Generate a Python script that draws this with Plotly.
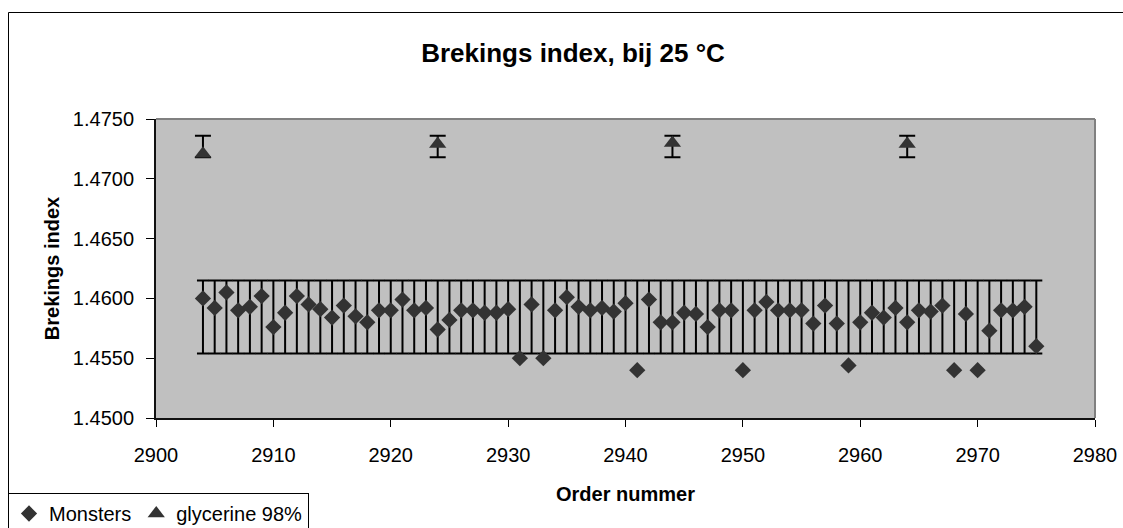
import plotly.graph_objects as go

# Refractive index of the samples per order number
order_numbers = list(range(2904, 2976))
monsters = [
    1.4600, 1.4592, 1.4605, 1.4590, 1.4593, 1.4602, 1.4576, 1.4588, 1.4602, 1.4595,
    1.4591, 1.4584, 1.4594, 1.4585, 1.4580, 1.4590, 1.4590, 1.4599, 1.4590, 1.4592,
    1.4574, 1.4582, 1.4590, 1.4590, 1.4588, 1.4588, 1.4591, 1.4550, 1.4595, 1.4550,
    1.4590, 1.4601, 1.4593, 1.4590, 1.4592, 1.4589, 1.4596, 1.4540, 1.4599, 1.4580,
    1.4580, 1.4588, 1.4587, 1.4576, 1.4590, 1.4590, 1.4540, 1.4590, 1.4597, 1.4590,
    1.4590, 1.4590, 1.4579, 1.4594, 1.4579, 1.4544, 1.4580, 1.4588, 1.4584, 1.4592,
    1.4580, 1.4590, 1.4589, 1.4594, 1.4540, 1.4587, 1.4540, 1.4573, 1.4590, 1.4590,
    1.4593, 1.4560,
]
monsters_low, monsters_high = 1.4554, 1.4615

# Glycerine 98% reference measurements
glycerine_orders = [2904, 2924, 2944, 2964]
glycerine = [1.4721, 1.4729, 1.4730, 1.4729]
glycerine_low, glycerine_high = 1.4718, 1.4736

y_ticks = [1.4500, 1.4550, 1.4600, 1.4650, 1.4700, 1.4750]
x_ticks = [2900, 2910, 2920, 2930, 2940, 2950, 2960, 2970, 2980]

FONT = "Liberation Sans, Arial, sans-serif"
MARK = "#333333"

fig = go.Figure()
fig.add_trace(go.Scatter(
    x=order_numbers, y=monsters, mode="markers", name="Monsters",
    marker=dict(symbol="diamond", size=12.5, color=MARK),
    error_y=dict(type="data", symmetric=False,
                 array=[monsters_high - v for v in monsters],
                 arrayminus=[v - monsters_low for v in monsters],
                 color="black", thickness=2, width=6),
))
fig.add_trace(go.Scatter(
    x=glycerine_orders, y=glycerine, mode="markers", name="glycerine 98%",
    marker=dict(symbol="triangle-up", size=15, color=MARK),
    error_y=dict(type="data", symmetric=False,
                 array=[glycerine_high - v for v in glycerine],
                 arrayminus=[v - glycerine_low for v in glycerine],
                 color="black", thickness=2, width=8),
))

W, H = 1123, 528
L, R, T, B = 156, 28, 119, 110
pw, ph = W - L - R, H - T - B

def px(xp):
    return (xp - L) / pw

def py(yp):
    return (H - B - yp) / ph

fig.update_layout(
    width=W, height=H,
    margin=dict(l=L, r=R, t=T, b=B, autoexpand=False),
    paper_bgcolor="white", plot_bgcolor="#C0C0C0",
    font=dict(family=FONT, size=20, color="black"),
    title=dict(text="<b>Brekings index, bij 25 °C</b>", font=dict(size=26),
               xref="container", yref="container",
               x=573 / W, y=1 - 53 / H, xanchor="center", yanchor="middle"),
    showlegend=True,
    legend=dict(orientation="h", x=px(8), y=py(493), xanchor="left", yanchor="top",
                bgcolor="white", bordercolor="black", borderwidth=1,
                font=dict(size=20), itemsizing="trace", tracegroupgap=0),
    xaxis=dict(range=[2900, 2980], tickvals=x_ticks, ticks="outside", ticklen=7,
               tickcolor="black", tickwidth=1, showgrid=False, zeroline=False,
               showline=True, linecolor="#111111", linewidth=2,
               ticklabelstandoff=11,
               title=dict(text="<b>Order nummer</b>", font=dict(size=20), standoff=22)),
    yaxis=dict(range=[1.4500, 1.4750], tickvals=y_ticks, tickformat=".4f",
               ticks="outside", ticklen=8, tickcolor="black", tickwidth=1,
               showgrid=False, zeroline=False, showline=True, linecolor="#111111",
               linewidth=2, ticklabelstandoff=8,
               title=dict(text="<b>Brekings index</b>", font=dict(size=20), standoff=8)),
    shapes=[
        # grey frame on the top and right of the plot area
        dict(type="line", xref="paper", yref="paper", x0=0, x1=1, y0=1, y1=1,
             line=dict(color="#808080", width=2)),
        dict(type="line", xref="paper", yref="paper", x0=1, x1=1, y0=0, y1=1,
             line=dict(color="#808080", width=2)),
        # outer chart border
        dict(type="rect", xref="paper", yref="paper", x0=px(8.5), x1=px(1130),
             y0=py(535), y1=py(12.5), line=dict(color="black", width=1),
             fillcolor="rgba(0,0,0,0)", layer="below"),
    ],
)

fig.write_html("out.html")
